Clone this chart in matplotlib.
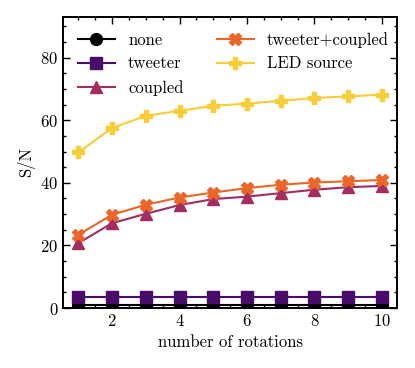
import numpy as np
import matplotlib
matplotlib.use("Agg")
import matplotlib.pyplot as plt
from matplotlib.ticker import AutoMinorLocator, MultipleLocator

rotations = [1, 2, 3, 4, 5, 6, 7, 8, 9, 10]

sn_none = [1.0, 1.0, 1.0, 1.0, 1.0, 1.0, 1.0, 1.0, 1.0, 1.0]
sn_tweeter = [3.4, 3.4, 3.4, 3.4, 3.4, 3.4, 3.4, 3.4, 3.4, 3.4]
sn_coupled = [20.7, 27.1, 30.1, 32.9, 34.8, 35.6, 36.7, 37.8, 38.6, 39.0]
sn_tweeter_coupled = [23.4, 29.8, 33.0, 35.3, 36.9, 38.3, 39.4, 40.1, 40.5, 40.9]
sn_led = [49.7, 57.5, 61.4, 63.0, 64.6, 65.3, 66.2, 67.1, 67.6, 68.2]

labels = ["none", "tweeter", "coupled", "tweeter+coupled", "LED source"]
markers = ["o", "s", "^", "X", "P"]

plt.rcParams["font.family"] = "serif"
plt.rcParams["font.serif"] = ["cmr10"]
plt.rcParams["mathtext.fontset"] = "cm"
plt.rcParams["axes.formatter.use_mathtext"] = True
plt.rcParams["font.size"] = 12

colors = plt.cm.inferno(np.linspace(0, 0.88, 5))

fig = plt.figure(figsize=(4.15, 3.68), dpi=100)
ax = fig.add_axes([0.152, 0.163, 0.805, 0.791])

series = [sn_none, sn_tweeter, sn_coupled, sn_tweeter_coupled, sn_led]
for vals, lab, mk, c in zip(series, labels, markers, colors):
    ax.plot(rotations, vals, marker=mk, color=c, label=lab, lw=1.5, ms=8.5)

ax.set_xlim(0.55, 10.45)
ax.set_ylim(0, 93)
ax.xaxis.set_major_locator(MultipleLocator(2))
ax.yaxis.set_major_locator(MultipleLocator(20))
ax.xaxis.set_minor_locator(AutoMinorLocator(4))
ax.yaxis.set_minor_locator(AutoMinorLocator(4))
ax.tick_params(which="both", direction="in", top=True, right=True, width=1.0)
ax.tick_params(which="major", length=5)
ax.tick_params(which="minor", length=2.5)
for s in ax.spines.values():
    s.set_linewidth(1.4)

ax.set_xlabel("number of rotations")
ax.set_ylabel("S/N")
ax.legend(ncol=2, loc="upper left", frameon=False, handlelength=2.2,
          handletextpad=0.8, columnspacing=2.0, borderaxespad=0.5,
          labelspacing=0.5)

fig.savefig("out.png", dpi=100)
